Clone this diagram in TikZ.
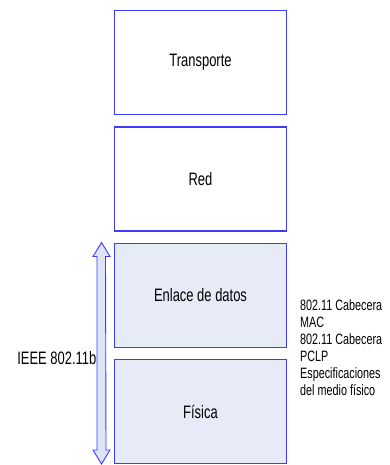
\documentclass[tikz,border=0pt]{standalone}
\usepackage{fontspec}
\setmainfont[FakeStretch=0.72]{Liberation Sans}
\definecolor{boxblue}{RGB}{60,60,250}
\definecolor{lightfill}{RGB}{230,235,247}
\definecolor{arrowfill}{RGB}{222,228,248}
\begin{document}
\begin{tikzpicture}[x=1pt,y=-1pt,
  layer/.style={draw=boxblue, line width=1.1pt, minimum width=172pt, minimum height=104pt,
    inner sep=0pt, outer sep=0pt, font=\fontsize{18}{20}\selectfont},
  wlayer/.style={layer, fill=white},
  blayer/.style={layer, fill=lightfill},
  sidetext/.style={align=left, anchor=west, inner sep=0pt, font=\fontsize{15}{17}\selectfont},
  bigarrow/.style={draw=boxblue, fill=arrowfill, line width=0.9pt, line join=miter}]
\useasboundingbox (0,0) rectangle (390,465);
\node[wlayer] (trans) at (200.5,62.5) {Transporte};
\node[wlayer] (red) at (200.5,179) {Red};
\node[blayer] (enlace) at (200.5,295.5) {Enlace de datos};
\node[blayer] (fisica) at (200.5,411.5) {Física};
% double arrow
\coordinate (top) at (101.5,242.5);
\coordinate (bot) at (101.5,464);
\draw[bigarrow] (top) -- ++(8.5,14) -- ++(-4.5,0) -- (106,450) -- (110,450) -- (bot)
  -- (93,450) -- (97,450) -- (97,256.5) -- (93,256.5) -- cycle;
\node[anchor=east, inner sep=0pt, font=\fontsize{18}{20}\selectfont] (ieee) at (96.5,358) {IEEE 802.11b};
\node[sidetext] (side) at (300,348) {802.11 Cabecera\\MAC\\802.11 Cabecera\\PCLP\\Especificaciones\\del medio físico};
\end{tikzpicture}
\end{document}
